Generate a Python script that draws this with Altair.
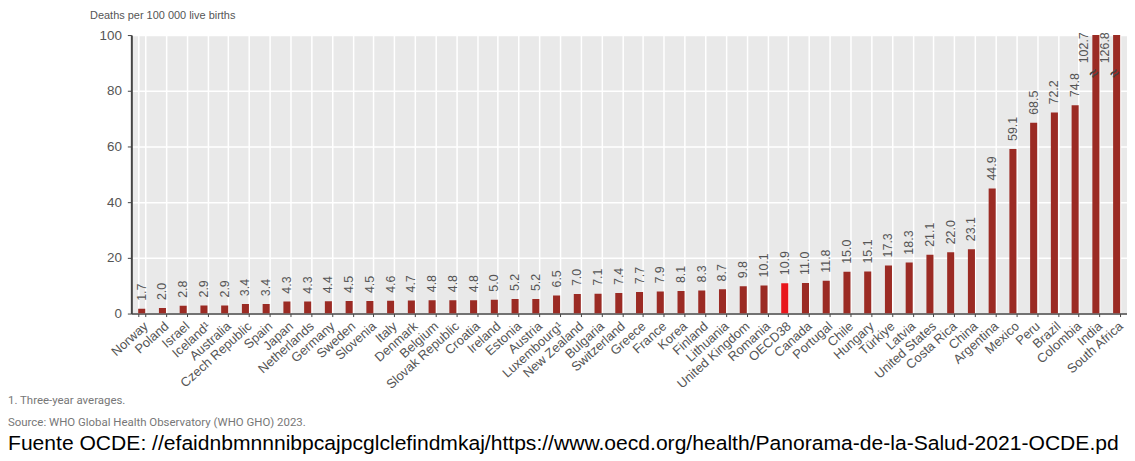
import altair as alt
import pandas as pd

countries = ["Norway", "Poland", "Israel", "Iceland¹", "Australia", "Czech Republic", "Spain", "Japan",
             "Netherlands", "Germany", "Sweden", "Slovenia", "Italy", "Denmark", "Belgium",
             "Slovak Republic", "Croatia", "Ireland", "Estonia", "Austria", "Luxembourg¹",
             "New Zealand", "Bulgaria", "Switzerland", "Greece", "France", "Korea", "Finland",
             "Lithuania", "United Kingdom", "Romania", "OECD38", "Canada", "Portugal", "Chile",
             "Hungary", "Türkiye", "Latvia", "United States", "Costa Rica", "China", "Argentina",
             "Mexico", "Peru", "Brazil", "Colombia", "India", "South Africa"]
values = [1.7, 2.0, 2.8, 2.9, 2.9, 3.4, 3.4, 4.3, 4.3, 4.4, 4.5, 4.5, 4.6, 4.7, 4.8, 4.8,
          4.8, 5.0, 5.2, 5.2, 6.5, 7.0, 7.1, 7.4, 7.7, 7.9, 8.1, 8.3, 8.7, 9.8, 10.1, 10.9,
          11.0, 11.8, 15.0, 15.1, 17.3, 18.3, 21.1, 22.0, 23.1, 44.9, 59.1, 68.5, 72.2, 74.8,
          102.7, 126.8]
highlight = "OECD38"
y_ticks = [0, 20, 40, 60, 80, 100]
y_title = "Deaths per 100 000 live births"
footnotes = ["1. Three-year averages.", "Source: WHO Global Health Observatory (WHO GHO) 2023."]
source_line = "Fuente OCDE: //efaidnbmnnnibpcajpcglclefindmkaj/https://www.oecd.org/health/Panorama-de-la-Salud-2021-OCDE.pd"

df = pd.DataFrame({"country": countries, "value": values})
df["kind"] = ["hi" if c == highlight else "base" for c in countries]

W, H = 1001, 280
FONT = "Liberation Sans"

x_scale = alt.Scale(domain=countries, paddingInner=0.66)

x_enc = alt.X(
    "country:N", sort=countries,
    scale=x_scale,
    axis=alt.Axis(title=None, labelAngle=-42, labelFontSize=13, labelColor="#555",
                  labelFont=FONT, tickBand="extent", grid=True, gridColor="white",
                  gridWidth=1.5, domainColor="#444", domainWidth=1.5, tickColor="#444",
                  tickSize=3, labelPadding=3),
)
x_plain = alt.X("country:N", sort=countries, scale=x_scale)
y_enc = alt.Y(
    "value:Q",
    scale=alt.Scale(domain=[0, 100], nice=False),
    axis=alt.Axis(values=y_ticks, title=y_title, titleAngle=0, titleAlign="left",
                  titleBaseline="top", titleX=-42, titleY=-26, titleFontSize=11,
                  titleFontWeight="normal", titleColor="#555", titleFont=FONT,
                  labelFontSize=13.5, labelColor="#555", labelFont=FONT, labelPadding=6,
                  domainColor="#444", domainWidth=2, tickColor="#444", tickSize=4,
                  gridColor="white", gridWidth=1.5),
)

base = alt.Chart(df)

bars = base.mark_bar(clip=True).encode(
    x=x_enc, y=y_enc,
    color=alt.Color("kind:N", scale=alt.Scale(domain=["base", "hi"], range=["#9b2b24", "#e8161c"]),
                    legend=None),
)

labels = base.transform_filter("datum.value <= 100").mark_text(
    angle=270, align="left", baseline="middle", dx=8, fontSize=12.5, color="#555", font=FONT
).encode(x=x_plain, y="value:Q", text=alt.Text("value:Q", format=".1f"))

clipped = base.transform_filter("datum.value > 100").transform_calculate(ly="87")
clip_labels = clipped.mark_text(
    angle=270, align="left", baseline="middle", dx=8, dy=-12, fontSize=12.5, color="#555", font=FONT
).encode(x=x_plain, y="ly:Q", text=alt.Text("value:Q", format=".1f"))
breaks = clipped.mark_text(
    text="≈", angle=315, align="center", baseline="middle", dx=-3, fontSize=15,
    fontWeight="bold", color="#444", font=FONT
).encode(x=x_plain, y="ly:Q")

fn1 = alt.Chart(pd.DataFrame({"t": [footnotes[0]]})).mark_text(
    align="left", baseline="middle", fontSize=11.5, color="#777", font="Roboto"
).encode(x=alt.value(-124), y=alt.value(368), text="t:N")
fn2 = alt.Chart(pd.DataFrame({"t": [footnotes[1]]})).mark_text(
    align="left", baseline="middle", fontSize=11.5, color="#777", font="Roboto"
).encode(x=alt.value(-124), y=alt.value(390), text="t:N")
src = alt.Chart(pd.DataFrame({"t": [source_line]})).mark_text(
    align="left", baseline="middle", fontSize=21.2, color="#000", font=FONT
).encode(x=alt.value(-124), y=alt.value(411), text="t:N")

chart = alt.layer(bars, labels, clip_labels, breaks, fn1, fn2, src).properties(
    width=W, height=H, padding=0
).configure_view(fill="#e9e9e9", strokeWidth=0)

chart.save("out.html", embed_options={"renderer": "svg", "actions": False})
